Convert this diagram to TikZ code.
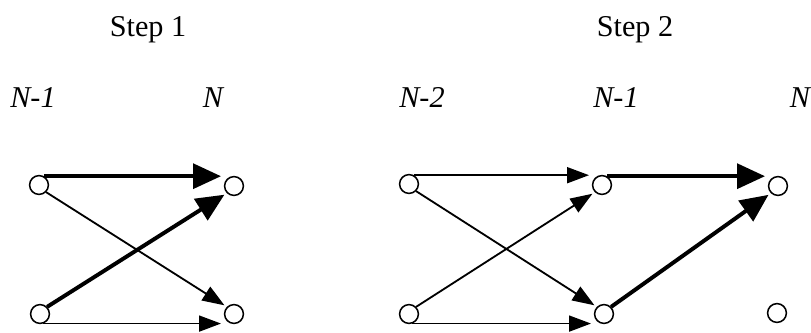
\documentclass[tikz,border=0pt]{standalone}
\usepackage{fontspec}
\setmainfont{Liberation Serif}
\usetikzlibrary{arrows.meta}

\begin{document}
\begin{tikzpicture}[
  x=0.025cm, y=-0.025cm,
  stage/.style   = {draw, line width=1.1pt, circle, inner sep=0pt, minimum size=0.47cm},
  title/.style   = {anchor=base, font=\fontsize{21.5}{24}\selectfont},
  col/.style     = {anchor=base, font=\fontsize{21.5}{24}\selectfont\itshape},
  best/.style    = {line width=2.8pt, -{Triangle[length=0.7cm,width=0.62cm]},
                    shorten >=2pt},
  other/.style   = {line width=1.3pt, -{Triangle[length=0.55cm,width=0.4cm]},
                    shorten >=2pt},
]
  \useasboundingbox (0,0) rectangle (811,332);
  \clip (0,0) rectangle (811,332);

  % step 1: stages N-1 and N
  \node[title] (t1) at (148,36) {Step 1};
  \node[col] (l11) at (33,107) {N-1};
  \node[col] (l12) at (213,107) {N};
  \node[stage] (a1) at (39,185) {};
  \node[stage] (a2) at (40,314) {};
  \node[stage] (b1) at (234,186) {};
  \node[stage] (b2) at (234,314) {};

  \draw[best] (a1.60) -- (a1.60 -| b1.west);
  \draw[best] (a2.north east) -- (b1.south west);
  \draw[other] (a1.south east) -- (b2.north west);
  \draw[other] (a2.-70) -- (a2.-70 -| b2.west);

  % step 2: stages N-2, N-1 and N
  \node[title] (t2) at (635,36) {Step 2};
  \node[col] (l21) at (422,107) {N-2};
  \node[col] (l22) at (616,107) {N-1};
  \node[col] (l23) at (800,107) {N};
  \node[stage] (c1) at (409,184) {};
  \node[stage] (c2) at (409,314) {};
  \node[stage] (d1) at (602,185) {};
  \node[stage] (d2) at (604,314) {};
  \node[stage] (e1) at (778,186) {};
  \node[stage] (e2) at (777,313) {};

  \draw[other] (c1.60) -- (c1.60 -| d1.west);
  \draw[other] (c1.south east) -- (d2.north west);
  \draw[other] (c2.north east) -- (d1.south west);
  \draw[other] (c2.-70) -- (c2.-70 -| d2.west);
  \draw[best] (d1.60) -- (d1.60 -| e1.west);
  \draw[best] (d2.north east) -- (e1.south west);
\end{tikzpicture}
\end{document}
